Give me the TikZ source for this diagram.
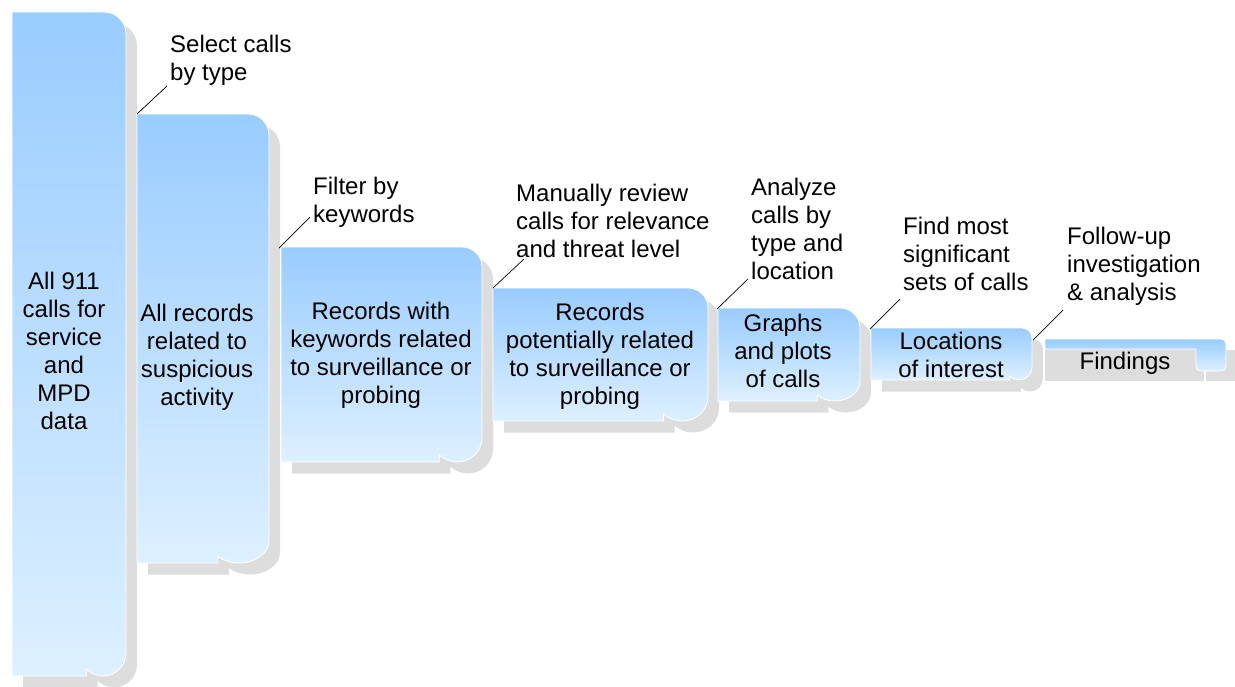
\documentclass[tikz,border=0pt]{standalone}
\usepackage{fontspec}
\setmainfont{Liberation Sans}
\usepackage{tikz}
\definecolor{boxtop}{HTML}{99CCFF}
\definecolor{boxbot}{HTML}{DDF0FF}
\definecolor{shadowgray}{HTML}{DDDDDD}
\tikzset{
  boxbody/.style={top color=boxtop, bottom color=boxbot, draw=white, line width=0.8pt},
  boxshadow/.style={fill=shadowgray},
  boxtext/.style={align=center, inner sep=0pt, font=\fontsize{24}{28}\selectfont},
  steplabel/.style={align=left, anchor=north west, inner sep=0pt, font=\fontsize{24}{28}\selectfont},
  leader/.style={line width=0.7pt}
}
% outline of one stage: left, top, right, bottom, corner radius, curl x radius, curl y radius
\newcommand{\boxpath}[7]{%
  (#1,#2) -- ({#3-#5},#2) .. controls ({#3-0.448*#5},#2) and (#3,{#2+0.448*#5}) .. (#3,{#2+#5})
  -- (#3,{#4-#7}) .. controls (#3,{#4-0.448*#7}) and ({#3-0.448*#6},#4) .. ({#3-#6},#4)
  .. controls ({#3-1.265*#6},#4) and ({#3-1.52*#6},{#4-0.105*#7}) .. ({#3-1.707*#6},{#4-0.293*#7})
  -- ({#3-1.707*#6},#4) -- (#1,#4) -- cycle}
\newcommand{\curlbox}[7]{%
  \path[boxshadow, xshift=11pt, yshift=-11.5pt] \boxpath{#1}{#2}{#3}{#4}{#5}{#6}{#7};
  \shade[boxbody] \boxpath{#1}{#2}{#3}{#4}{#5}{#6}{#7};}

\begin{document}
\begin{tikzpicture}[x=1pt, y=-1pt]
\useasboundingbox (0,0) rectangle (1235,686);

% stages
\curlbox{12}{12}{126}{676}{22}{23}{23}
\curlbox{137}{114}{269}{563}{21}{30}{22}
\curlbox{281}{247}{482}{462}{20}{25}{24}
\curlbox{493}{288}{708}{421}{20}{26}{24}
\curlbox{718}{308}{860}{401}{20}{25}{20}
\curlbox{871}{328}{1032}{380}{10}{13}{13}

% last stage
\fill[shadowgray] (1045,349) rectangle (1204,381);
\fill[shadowgray] (1206,350) rectangle (1235,381);
\shade[boxbody] (1045,339) -- (1221,339) .. controls (1224,339) and (1226,341) .. (1226,344)
  -- (1226,366) .. controls (1226,369) and (1224,371) .. (1221,371) -- (1201,371)
  .. controls (1198,371) and (1196,369) .. (1196,366) -- (1196,349) -- (1045,349) -- cycle;

\node[boxtext] (t1) at (64,351) {All 911\\calls for\\service\\and\\MPD\\data};
\node[boxtext] (t2) at (197,357) {All records\\related to\\suspicious\\activity};
\node[boxtext] (t3) at (381,355) {Records with\\keywords related\\to surveillance or\\probing};
\node[boxtext] (t4) at (600,356) {Records\\potentially related\\to surveillance or\\probing};
\node[boxtext] (t5) at (783,351) {Graphs\\and plots\\of calls};
\node[boxtext] (t6) at (951,355) {Locations\\of interest};
\node[boxtext] (t7) at (1125,363) {Findings};

% step labels
\node[steplabel] (l1) at (170,35) {Select calls\\by type};
\node[steplabel] (l2) at (313,177) {Filter by\\keywords};
\node[steplabel] (l3) at (516,184) {Manually review\\calls for relevance\\and threat level};
\node[steplabel] (l4) at (751,178) {Analyze\\calls by\\type and\\location};
\node[steplabel] (l5) at (903,217) {Find most\\significant\\sets of calls};
\node[steplabel] (l6) at (1067,227) {Follow-up\\investigation\\\& analysis};

% leader lines
\coordinate (c2) at (137,114); \coordinate (e1) at (167,86);
\coordinate (c3) at (279,248); \coordinate (e2) at (310,217);
\coordinate (c4) at (493,288); \coordinate (e3) at (524,259);
\coordinate (c5) at (717,309); \coordinate (e4) at (748,279);
\coordinate (c6) at (870,329); \coordinate (e5) at (900,299);
\coordinate (c7) at (1033,340); \coordinate (e6) at (1063,310);
\draw[leader] (c2) -- (e1);
\draw[leader] (c3) -- (e2);
\draw[leader] (c4) -- (e3);
\draw[leader] (c5) -- (e4);
\draw[leader] (c6) -- (e5);
\draw[leader] (c7) -- (e6);
\end{tikzpicture}
\end{document}
